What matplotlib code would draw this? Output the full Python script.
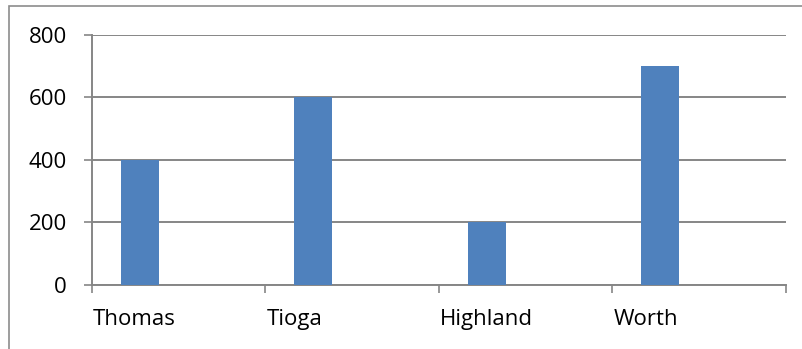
import matplotlib

matplotlib.use("Agg")
import matplotlib.pyplot as plt
from matplotlib.patches import Rectangle

# chart data
categories = ["Thomas", "Tioga", "Highland", "Worth"]
values = [400, 600, 200, 700]
y_ticks = [0, 200, 400, 600, 800]

BAR_COLOR = "#4F81BD"
GRID_COLOR = "#868686"

plt.rcParams["font.family"] = ["Open Sans", "DejaVu Sans"]

fig = plt.figure(figsize=(8.02, 3.49), dpi=100)
ax = fig.add_axes([0.1143, 0.1834, 0.8654, 0.7172])

# outer chart border (clipped at right/bottom as in the reference)
fig.patches.append(Rectangle((8.5 / 802, -0.05), 1.2, 1 - 5.5 / 349 + 0.05,
                             transform=fig.transFigure, fill=False,
                             edgecolor="#8c8c8c", linewidth=1.2))

# bars sit in the left part of each category slot
x = [i + 0.277 for i in range(len(categories))]
ax.bar(x, values, width=0.22, color=BAR_COLOR, zorder=3)

ax.set_xlim(0, len(categories))
ax.set_ylim(0, 800)
ax.set_yticks(y_ticks)
ax.set_yticklabels([str(v) for v in y_ticks])
ax.yaxis.grid(True, color=GRID_COLOR, linewidth=1.4, zorder=0)

# category boundaries as major ticks, labels left-aligned via minor ticks
ax.set_xticks(range(len(categories) + 1))
ax.set_xticklabels([])
ax.set_xticks([i + 0.008 for i in range(len(categories))], minor=True)
ax.set_xticklabels(categories, minor=True, ha="left")
ax.tick_params(axis="x", which="major", length=6, width=1.2,
               color=GRID_COLOR, direction="out")
ax.tick_params(axis="x", which="minor", length=0, pad=17, labelsize=16)
ax.tick_params(axis="y", length=6, width=1.2, color=GRID_COLOR,
               pad=12, labelsize=16)

for side in ("top", "right"):
    ax.spines[side].set_visible(False)
for side in ("left", "bottom"):
    ax.spines[side].set_color(GRID_COLOR)
    ax.spines[side].set_linewidth(1.4)

fig.savefig("out.png", dpi=100)
